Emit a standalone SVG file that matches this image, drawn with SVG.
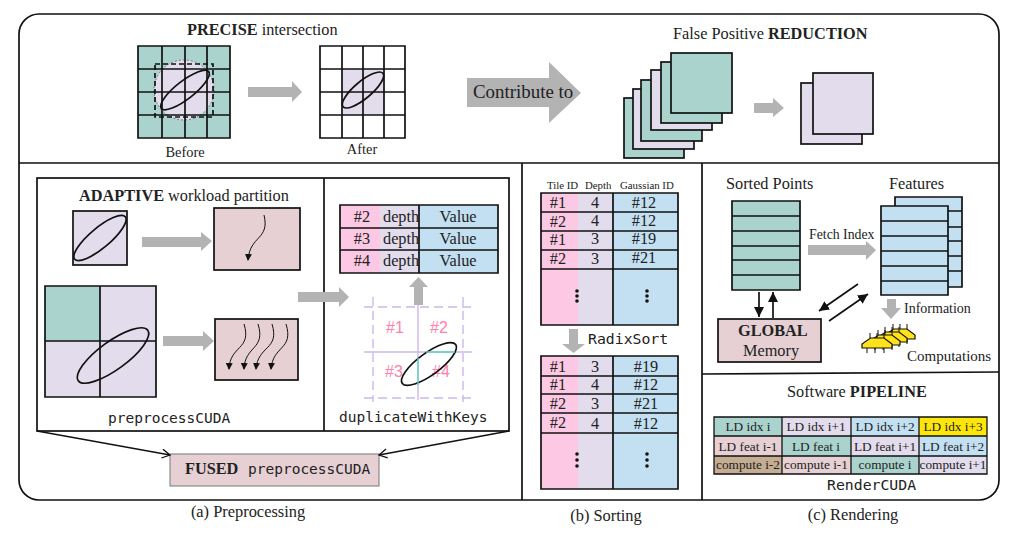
<svg xmlns="http://www.w3.org/2000/svg" width="1011" height="535" viewBox="0 0 1011 535">
<style>
text{font-family:"Liberation Serif","Times New Roman",serif;fill:#222}
.b{font-weight:700}
.m{font-family:"DejaVu Sans Mono",monospace;font-size:14.5px}
.t15{font-size:16.3px}.t13{font-size:14.4px}
.c{text-anchor:middle}
.g{fill:#a9d3cc}.l{fill:#e3dcec}.bl{fill:#c3e0f3}.r{fill:#e6d0d4}.p{fill:#fdc8e3}
.k{stroke:#111;stroke-width:1.7;fill:none}
.sk{stroke:#111;stroke-width:1.7}
.ar{fill:#b3b3b3}
.gd{stroke:#cbb8ec;stroke-width:1.4;fill:none}
.ds{stroke-dasharray:9 5}
.hp{font-family:"Liberation Sans",sans-serif;font-size:16px;fill:#ff80ab;text-anchor:middle}
.cell{font-size:13.3px;text-anchor:middle}
.cap{font-size:16.4px;text-anchor:middle}
</style>
<defs>
<marker id="ah" markerWidth="8" markerHeight="8" refX="6" refY="3.5" orient="auto" markerUnits="userSpaceOnUse"><path d="M0 0L7 3.5L0 7Z" fill="#111"/></marker>
<marker id="big" markerWidth="12" markerHeight="12" refX="10" refY="5" orient="auto" markerUnits="userSpaceOnUse"><path d="M0 0L10 5L0 10Z" fill="#111"/></marker>
<marker id="open" markerWidth="12" markerHeight="12" refX="9" refY="5" orient="auto" markerUnits="userSpaceOnUse"><path d="M1 0.5L9 5L1 9.5" fill="none" stroke="#111" stroke-width="1.3"/></marker>
<g id="chip"><path d="M8 -5V0M15 -5V0M22 -5V0M5 10V15M13 10V15M22 10V15" stroke="#111" stroke-width="1"/><path d="M0 10V6L8.500 0H22L30 6V10Z" fill="#ffe21a" stroke="#111" stroke-width="1.200"/></g>
</defs>

<g id="frame">
<rect x="19" y="14" width="980" height="486" rx="20" fill="#fff" stroke="#111" stroke-width="1.700"/>
<path class="k" d="M19 163H999M522 163V500M702 163V500M702 374L999 372"/>
</g>

<g id="precise">
<text x="187" y="35" class="t15"><tspan class="b">PRECISE</tspan> intersection</text>
<rect class="g" x="138" y="46" width="92" height="92"/>
<circle cx="184" cy="90" r="30" fill="#e3dcec" stroke="#777" stroke-width="1" stroke-dasharray="2 2"/>
<path class="k" d="M138 46H230V138H138ZM162 46V138M185 46V138M207 46V138M138 69H230M138 92H230M138 115H230"/>
<rect x="155" y="64" width="58" height="53" fill="none" stroke="#111" stroke-width="1.700" stroke-dasharray="5 3"/>
<ellipse cx="185" cy="90" rx="30" ry="9" transform="rotate(-38 185 90)" class="k"/>
<text x="185" y="157" class="t13 c">Before</text>
<path class="ar" d="M248 87H292V81L302 92L292 102V97H248Z"/>
<rect class="l" x="342" y="69" width="42" height="46"/>
<path class="k" d="M320 46H405V138H320ZM342 46V138M363 46V138M384 46V138M320 69H405M320 92H405M320 115H405"/>
<ellipse cx="363" cy="90" rx="26" ry="8.500" transform="rotate(-40 363 90)" class="k"/>
<text x="362" y="154" class="t13 c">After</text>
</g>

<g id="contribute">
<path class="ar" d="M467 78H549V62L581 93L549 123V107H467Z"/>
<text x="473" y="98" font-size="18.900">Contribute to</text>
</g>

<g id="reduction">
<text x="673" y="39" class="t15">False Positive <tspan class="b">REDUCTION</tspan></text>
<rect class="k" style="fill:#a9d3cc" x="624" y="98" width="60" height="60"/>
<rect class="k" style="fill:#e3dcec" x="633" y="89" width="61" height="60"/>
<rect class="k" style="fill:#a9d3cc" x="641" y="80" width="61" height="61"/>
<rect class="k" style="fill:#e3dcec" x="651" y="70" width="61" height="60"/>
<rect class="k" style="fill:#a9d3cc" x="661" y="62" width="61" height="61"/>
<rect class="k" style="fill:#a9d3cc" x="671" y="53" width="61" height="60"/>
<path class="ar" d="M754 103H773V98L784 108L773 117V113H754Z"/>
<rect class="k" style="fill:#e3dcec" x="801" y="83" width="61" height="61"/>
<rect class="k" style="fill:#e3dcec" x="813" y="73" width="60" height="61"/>
</g>

<g id="adaptive">
<rect class="k" x="37" y="178" width="472" height="253"/>
<path class="k" d="M324 178V431"/>
<text x="79" y="201" class="t15"><tspan class="b">ADAPTIVE</tspan> workload partition</text>
<rect class="l sk" x="73" y="211" width="54" height="54"/>
<ellipse cx="100" cy="238" rx="33" ry="10" transform="rotate(-40 100 238)" class="k"/>
<path class="ar" d="M142 237H201V232L212 241L201 251V247H142Z"/>
<rect class="r sk" x="214" y="208" width="86" height="62"/>
<path d="M264 215C270 240 250 235 248 260" fill="none" stroke="#111" stroke-width="1" marker-end="url(#ah)"/>
<rect class="l" x="45" y="286" width="111" height="111"/>
<rect class="g" x="45" y="286" width="55" height="55"/>
<path class="k" d="M45 286H156V397H45ZM100 286V397M45 341H156"/>
<ellipse cx="113" cy="355.500" rx="43" ry="14" transform="rotate(-36 113 355.500)" class="k"/>
<path class="ar" d="M163 336H203V331L214 341L203 351V346H163Z"/>
<rect class="r sk" x="215" y="319" width="83" height="61"/>
<g fill="none" stroke="#111" stroke-width="1">
<path d="M244 324C252 350 230 345 229 369" marker-end="url(#ah)"/>
<path d="M258 324C266 350 245 345 244 369" marker-end="url(#ah)"/>
<path d="M272 324C280 350 258 345 256 369" marker-end="url(#ah)"/>
<path d="M286 324C294 350 273 345 271 369" marker-end="url(#ah)"/>
</g>
<text x="108" y="423" class="m">preprocessCUDA</text>
<path class="ar" d="M298 292H339V287L349 297L339 307V302H298Z"/>
</g>

<g id="duplicate">
<rect class="p" x="340" y="205" width="40" height="68"/>
<rect class="l" x="380" y="205" width="39" height="68"/>
<rect class="bl" x="419" y="205" width="79" height="68"/>
<path class="k" d="M340 205H498V273H340ZM340 228H498M340 250H498M419 205V273"/>
<text x="362" y="222" class="t15 c">#2</text><text x="383" y="222" class="t15">depth</text><text x="458" y="222" class="t15 c">Value</text>
<text x="362" y="244" class="t15 c">#3</text><text x="383" y="244" class="t15">depth</text><text x="458" y="244" class="t15 c">Value</text>
<text x="362" y="266" class="t15 c">#4</text><text x="383" y="266" class="t15">depth</text><text x="458" y="266" class="t15 c">Value</text>
<path class="ar" d="M414 305V287H409L418.500 277L428 287H423V305Z"/>
<path class="gd ds" d="M373 297V402M463 297V402M364 307H473M364 398H473"/>
<path class="gd" d="M418 305V400M364 352H472"/>
<text x="395" y="333" class="hp">#1</text><text x="439" y="333" class="hp">#2</text><text x="394" y="377" class="hp">#3</text><text x="441" y="377" class="hp">#4</text>
<ellipse cx="429" cy="364" rx="33" ry="11" transform="rotate(-36 429 364)" class="k"/>
<path d="M426 352H455M418 358V385" stroke="#5fd3bf" stroke-width="1.400" fill="none"/>
<text x="339" y="422" class="m">duplicateWithKeys</text>
</g>

<g id="fused">
<rect x="170" y="454" width="209" height="32" fill="#e6d0d4" stroke="#777" stroke-width="1"/>
<text x="185" y="474" class="t15 b">FUSED</text>
<text x="248" y="474" class="m">preprocessCUDA</text>
</g>

<g id="connectors">
<path d="M37 431L170 455" stroke="#111" stroke-width="1.300" fill="none" marker-end="url(#open)"/>
<path d="M509 431L379 455" stroke="#111" stroke-width="1.300" fill="none" marker-end="url(#open)"/>
<path d="M759 292V317" class="sk" marker-end="url(#big)"/>
<path d="M773 318V292" class="sk" marker-end="url(#big)"/>
<path d="M858 284L819 311" class="sk" marker-end="url(#big)"/>
<path d="M829 321L868 294" class="sk" marker-end="url(#big)"/>
</g>

<g id="sorting">
<text x="547" y="189" font-size="10.800">Tile ID</text><text x="585" y="189" font-size="10.800">Depth</text><text x="620" y="189" font-size="10.800">Gaussian ID</text>
<rect class="p" x="541" y="193" width="37" height="132"/>
<rect class="l" x="578" y="193" width="35" height="132"/>
<rect class="bl" x="613" y="193" width="65" height="132"/>
<path class="k" d="M541 193H678V325H541ZM541 212H678M541 231H678M541 250H678M541 269H678M613 193V325"/>
<text x="558" y="208" class="t15 c">#1</text><text x="595" y="208" class="t15 c">4</text><text x="644" y="208" class="t15 c">#12</text>
<text x="558" y="227" class="t15 c">#2</text><text x="595" y="226" class="t15 c">4</text><text x="644" y="226" class="t15 c">#12</text>
<text x="558" y="245" class="t15 c">#1</text><text x="595" y="244" class="t15 c">3</text><text x="644" y="244" class="t15 c">#19</text>
<text x="558" y="264" class="t15 c">#2</text><text x="595" y="264" class="t15 c">3</text><text x="644" y="263" class="t15 c">#21</text>
<g fill="#111"><circle cx="577" cy="291" r="1.800"/><circle cx="577" cy="296" r="1.800"/><circle cx="577" cy="301" r="1.800"/><circle cx="647" cy="291" r="1.800"/><circle cx="647" cy="296" r="1.800"/><circle cx="647" cy="301" r="1.800"/></g>
<path class="ar" d="M569 329H578V344H585L573.500 353L562 344H569Z"/>
<text x="588" y="344" class="m" style="font-size:14.800px">RadixSort</text>
<rect class="p" x="541" y="356" width="37" height="133"/>
<rect class="l" x="578" y="356" width="35" height="133"/>
<rect class="bl" x="613" y="356" width="65" height="133"/>
<path class="k" d="M541 356H678V489H541ZM541 376H678M541 394H678M541 413H678M541 433H678M613 356V489"/>
<text x="558" y="372" class="t15 c">#1</text><text x="595" y="372" class="t15 c">3</text><text x="646" y="372" class="t15 c">#19</text>
<text x="558" y="390" class="t15 c">#1</text><text x="595" y="390" class="t15 c">4</text><text x="646" y="390" class="t15 c">#12</text>
<text x="558" y="409" class="t15 c">#2</text><text x="595" y="409" class="t15 c">3</text><text x="646" y="409" class="t15 c">#21</text>
<text x="558" y="428" class="t15 c">#2</text><text x="595" y="429" class="t15 c">4</text><text x="646" y="429" class="t15 c">#12</text>
<g fill="#111"><circle cx="577" cy="454" r="1.800"/><circle cx="577" cy="460" r="1.800"/><circle cx="577" cy="466" r="1.800"/><circle cx="647" cy="454" r="1.800"/><circle cx="647" cy="460" r="1.800"/><circle cx="647" cy="466" r="1.800"/></g>
</g>

<g id="rendering">
<text x="726" y="189" class="t15">Sorted Points</text>
<text x="889" y="189" class="t15">Features</text>
<rect class="g" x="732" y="201" width="68" height="89"/>
<path class="k" d="M732 201H800V290H732ZM732 216H800M732 231H800M732 246H800M732 260H800M732 275H800"/>
<rect class="bl" x="895" y="197" width="67" height="90"/>
<path class="k" d="M895 197H962V287H895ZM895 211H962M895 227H962M895 241H962M895 256H962M895 271H962"/>
<rect class="bl" x="881" y="206" width="67" height="89"/>
<path class="k" d="M881 206H948V295H881ZM881 221H948M881 236H948M881 251H948M881 266H948M881 281H948"/>
<text x="809" y="239" font-size="13.800">Fetch Index</text>
<path class="ar" d="M808 245H866V241L876 250L866 260V255H808Z"/>
<rect class="r sk" x="718" y="319" width="103" height="43"/>
<text x="738" y="336" class="t15 b">GLOBAL</text>
<text x="743" y="356" class="t15">Memory</text>
<path class="ar" d="M887 299H896V308H901L891 319L881 308H887Z"/>
<text x="904" y="313" font-size="14">Information</text>
<use href="#chip" x="885" y="329"/>
<use href="#chip" x="877" y="332"/>
<use href="#chip" x="870" y="335"/>
<use href="#chip" x="862" y="338"/>
<text x="907" y="361" font-size="15">Computations</text>
<text x="787" y="397" class="t15">Software <tspan class="b">PIPELINE</tspan></text>
<rect class="g" x="714" y="417" width="68" height="19"/><rect class="l" x="782" y="417" width="69" height="19"/><rect class="bl" x="851" y="417" width="68" height="19"/><rect x="919" y="417" width="68" height="19" fill="#ffe60a"/>
<rect class="r" x="714" y="436" width="68" height="20"/><rect class="g" x="782" y="436" width="69" height="20"/><rect class="l" x="851" y="436" width="68" height="20"/><rect class="bl" x="919" y="436" width="68" height="20"/>
<rect x="714" y="456" width="68" height="18" fill="#c4ad92"/><rect class="r" x="782" y="456" width="69" height="18"/><rect class="g" x="851" y="456" width="68" height="18"/><rect class="l" x="919" y="456" width="68" height="18"/>
<path class="k" d="M714 417H987V474H714ZM714 436H987M714 456H987M782 417V474M851 417V474M919 417V474" style="stroke-width:1.300"/>
<text x="748" y="431" class="cell">LD idx i</text><text x="816" y="431" class="cell">LD idx i+1</text><text x="885" y="431" class="cell">LD idx i+2</text><text x="953" y="431" class="cell">LD idx i+3</text>
<text x="748" y="451" class="cell">LD feat i-1</text><text x="816" y="451" class="cell">LD feat i</text><text x="885" y="451" class="cell">LD feat i+1</text><text x="953" y="451" class="cell">LD feat i+2</text>
<text x="748" y="469" class="cell">compute i-2</text><text x="816" y="469" class="cell">compute i-1</text><text x="885" y="469" class="cell">compute i</text><text x="953" y="469" class="cell">compute i+1</text>
<text x="827" y="490" class="m" style="font-size:14.800px">RenderCUDA</text>
</g>

<g id="captions">
<text x="248" y="517" class="cap">(a) Preprocessing</text>
<text x="606" y="521" class="cap">(b) Sorting</text>
<text x="853" y="520" class="cap">(c) Rendering</text>
</g>
</svg>
